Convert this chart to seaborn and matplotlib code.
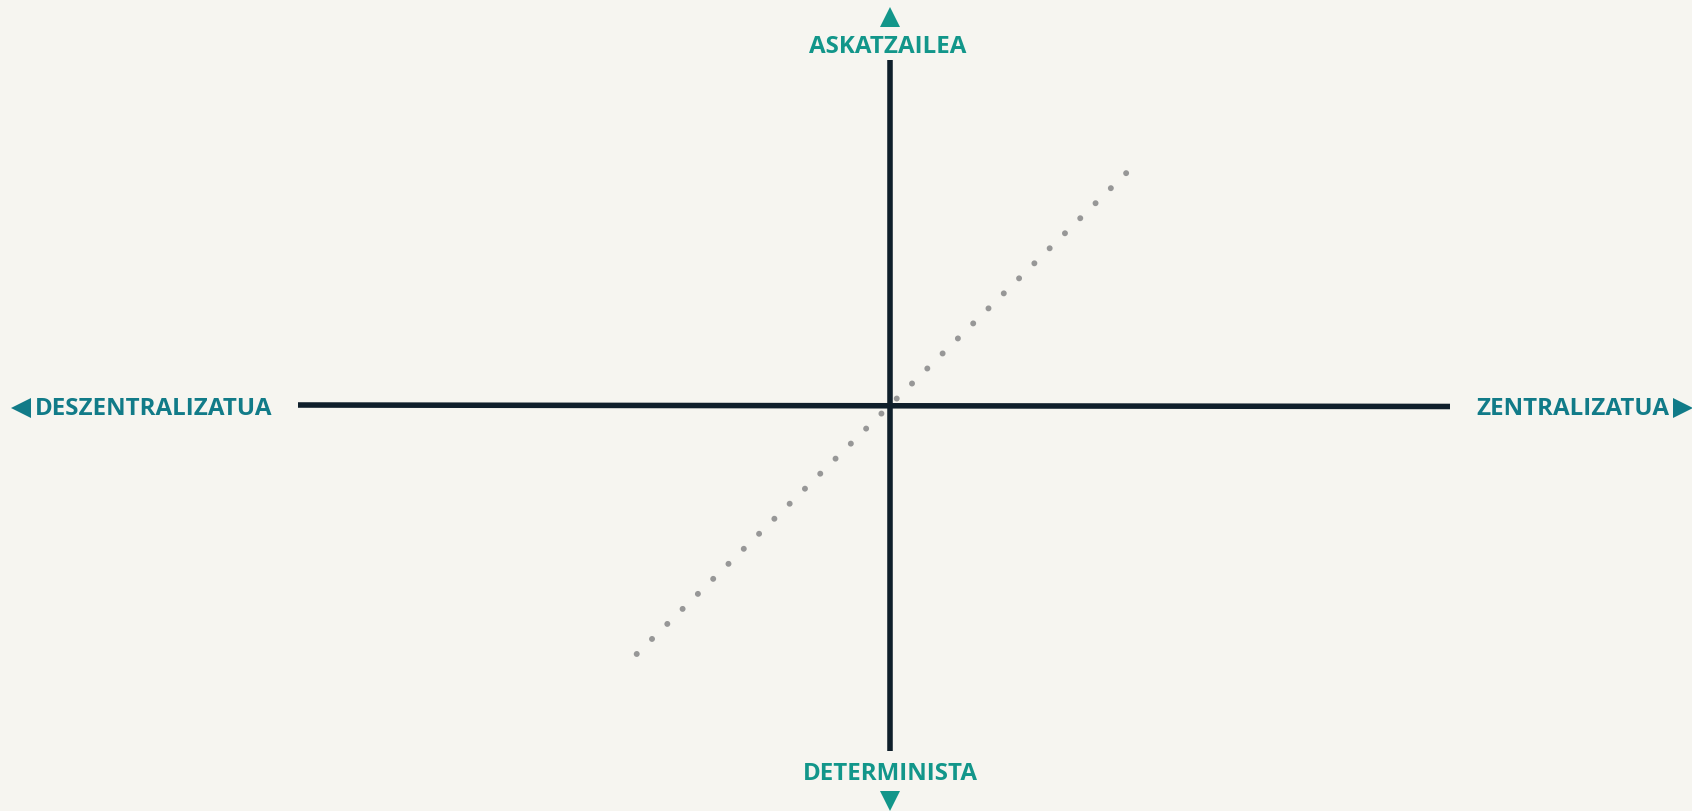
import numpy as np
import pandas as pd
import seaborn as sns
from matplotlib import pyplot as plt
from matplotlib import font_manager

# axis labels (vertical and horizontal poles)
v_labels = ["ASKATZAILEA", "DETERMINISTA"]
h_labels = ["DESZENTRALIZATUA", "ZENTRALIZATUA"]

# line geometry in centre-relative units (x right, y up)
h_axis_x = [-591.5, 560.5]
h_axis_y = [1.0, -0.5]
v_axis_x = [0.0, 0.0]
v_axis_y = [346.0, -345.0]
diag_x = [-252.8, 236.8]
diag_y = [-248.0, 233.0]

BG = "#f6f5f0"
INK = "#0f1f2b"
TEAL_V = "#12968a"
TEAL_H = "#117b88"
DOTS = "#979797"

sns.set_theme(style="white")
# pick a family that actually ships a bold face
fam = "DejaVu Sans"
for f in ["Noto Sans", "Open Sans", "Lato", "Roboto"]:
    try:
        path = font_manager.findfont(font_manager.FontProperties(family=f, weight="bold"),
                                     fallback_to_default=False)
        if "bold" in path.lower():
            fam = f
            break
    except Exception:
        pass
plt.rcParams["font.family"] = [fam, "DejaVu Sans"]

fig = plt.figure(figsize=(16.92, 8.12), dpi=100, facecolor=BG)
ax = fig.add_axes([0, 0, 1, 1])
ax.set_facecolor(BG)

diag = pd.DataFrame({"x": diag_x, "y": diag_y})
sns.lineplot(data=diag, x="x", y="y", ax=ax, color=DOTS, linewidth=4.3,
             linestyle=(0, (0.01, 3.58)), dash_capstyle="round",
             sort=False, estimator=None)
sns.lineplot(x=h_axis_x, y=h_axis_y, ax=ax, color=INK, linewidth=4,
             solid_capstyle="butt", sort=False, estimator=None)
sns.lineplot(x=v_axis_x, y=v_axis_y, ax=ax, color=INK, linewidth=4,
             solid_capstyle="butt", sort=False, estimator=None)

txt = dict(fontsize=17.4, fontweight="bold")
ax.text(-1.5, 360, v_labels[0], color=TEAL_V, ha="center", va="center", **txt)
ax.text(0.5, -367, v_labels[1], color=TEAL_V, ha="center", va="center", **txt)
ax.text(-617.5, -2.5, h_labels[0], color=TEAL_H, ha="right", va="center", **txt)
ax.text(586.5, -2.5, h_labels[1], color=TEAL_H, ha="left", va="center", **txt)

ax.plot([0], [389], marker="^", ms=14, color=TEAL_V, mew=0)
ax.plot([0], [-395], marker="v", ms=14, color=TEAL_V, mew=0)
ax.plot([-869], [-1.5], marker="<", ms=14, color=TEAL_H, mew=0)
ax.plot([793.5], [-1.5], marker=">", ms=14, color=TEAL_H, mew=0)

ax.set_xlim(-889.5, 802.5)
ax.set_ylim(-405, 407)
ax.axis("off")
fig.savefig("out.png", dpi=100, facecolor=BG)
